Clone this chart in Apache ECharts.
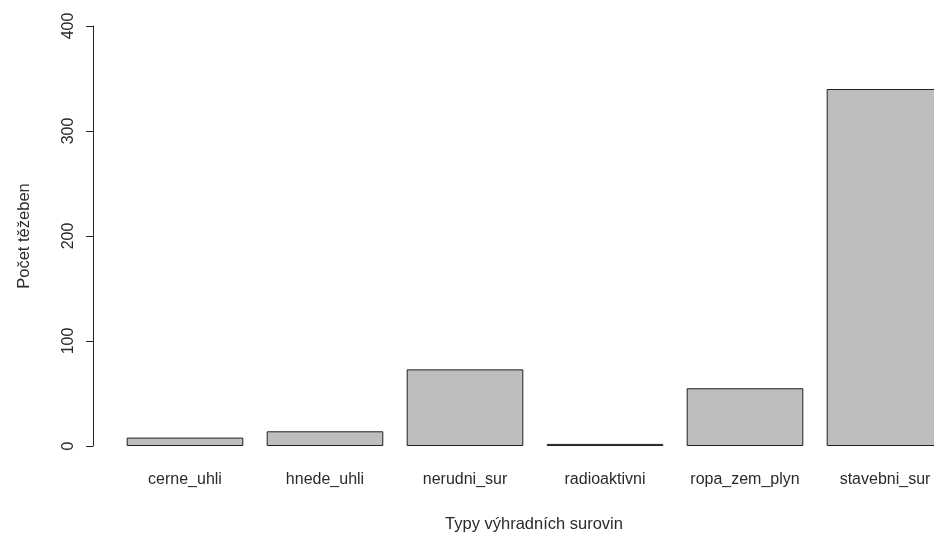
<!DOCTYPE html>
<html>
<head>
<meta charset="utf-8">
<script src="https://cdn.jsdelivr.net/npm/echarts@6/dist/echarts.min.js"></script>
<style>
  html, body { margin: 0; padding: 0; background: #fff; }
  #chart { width: 934px; height: 534px; }
</style>
</head>
<body>
<div id="chart"></div>
<script>
// Mining sites by type of reserved mineral
const categories = ['cerne_uhli', 'hnede_uhli', 'nerudni_sur', 'radioaktivni', 'ropa_zem_plyn', 'stavebni_sur'];
const counts = [8, 14, 73, 2, 55, 340];
const yTicks = [0, 100, 200, 300, 400];

const xTitle = 'Typy výhradních surovin';
const yTitle = 'Počet těžeben';

const FONT = 'Liberation Sans, Arial, sans-serif';
const TEXT = '#2a2a2a';

const chart = echarts.init(document.getElementById('chart'), null, { renderer: 'canvas' });

chart.setOption({
  animation: false,
  backgroundColor: '#ffffff',
  // plot area runs past the right edge, so the last bar is cut off
  grid: {
    left: 115, width: 840, top: 26, height: 420,
    containLabel: false,
    outerBoundsMode: 'none'
  },
  xAxis: {
    type: 'category',
    data: categories,
    axisLine: { show: false },
    axisTick: { show: false },
    axisLabel: {
      interval: 0,
      margin: 26,
      color: TEXT,
      fontFamily: FONT,
      fontSize: 16
    }
  },
  yAxis: {
    type: 'value',
    min: yTicks[0],
    max: yTicks[yTicks.length - 1],
    interval: yTicks[1] - yTicks[0],
    offset: 22,
    splitLine: { show: false },
    axisLine: { show: true, lineStyle: { color: '#222', width: 1 } },
    axisTick: { show: true, inside: false, length: 7, lineStyle: { color: '#222', width: 1 } },
    axisLabel: {
      rotate: 90,
      margin: 16,
      color: TEXT,
      fontFamily: FONT,
      fontSize: 16
    }
  },
  series: [{
    type: 'bar',
    data: counts,
    barWidth: '83.3%',
    itemStyle: { color: '#bebebe', borderColor: '#222', borderWidth: 1 },
    clip: false
  }],
  graphic: [
    {
      type: 'text',
      x: 534, y: 524,
      style: {
        text: xTitle, fill: TEXT, font: '16.5px ' + FONT,
        align: 'center', verticalAlign: 'middle',
        textAlign: 'center', textVerticalAlign: 'middle'
      }
    },
    {
      type: 'text',
      x: 24, y: 236,
      rotation: Math.PI / 2,
      style: {
        text: yTitle, fill: TEXT, font: '16.5px ' + FONT,
        align: 'center', verticalAlign: 'middle',
        textAlign: 'center', textVerticalAlign: 'middle'
      }
    }
  ]
});
</script>
</body>
</html>
